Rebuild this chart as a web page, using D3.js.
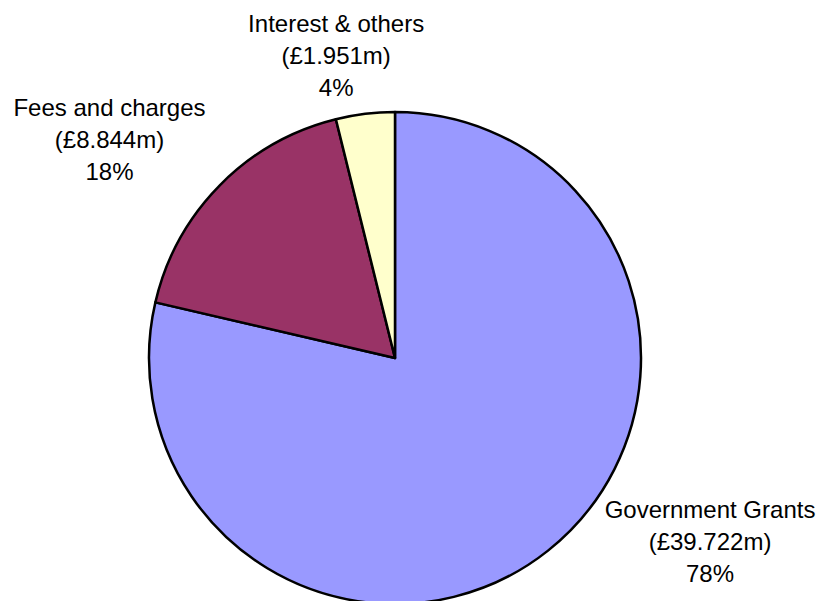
<!DOCTYPE html>
<html>
<head>
<meta charset="utf-8">
<script src="https://cdn.jsdelivr.net/npm/d3@7"></script>
<style>
  body { margin: 0; background: #fff; }
  text { font-family: "Liberation Sans", Arial, sans-serif; font-size: 24px; fill: #000; }
</style>
</head>
<body>
<div id="chart"></div>
<script>
const categories = ["Government Grants", "Fees and charges", "Interest & others"];
const amounts = [39.722, 8.844, 1.951];
const amountLabels = ["(£39.722m)", "(£8.844m)", "(£1.951m)"];
const percentLabels = ["78%", "18%", "4%"];
const colors = ["#9999ff", "#993366", "#ffffcc"];

const width = 823, height = 601;
const cx = 395, cy = 358, radius = 246;

const svg = d3.select("#chart").append("svg")
  .attr("width", width)
  .attr("height", height);

const g = svg.append("g").attr("transform", "translate(" + cx + "," + cy + ")");

const pie = d3.pie().sort(null).value(d => d.value);
const arc = d3.arc().innerRadius(0).outerRadius(radius);

const data = categories.map((c, i) => ({
  name: c, value: amounts[i], amount: amountLabels[i], pct: percentLabels[i], color: colors[i]
}));
const arcs = pie(data);

g.selectAll("path.slice")
  .data(arcs)
  .enter()
  .append("path")
  .attr("class", "slice")
  .attr("d", arc)
  .style("fill", d => d.data.color)
  .style("stroke", "#000")
  .style("stroke-width", "2.5px")
  .style("stroke-linejoin", "round");

// labels outside the pie, pushed out of the circle and kept inside the page
const lineH = 32;
const labels = g.selectAll("text.label")
  .data(arcs)
  .enter()
  .append("text")
  .attr("class", "label")
  .attr("text-anchor", "middle");

labels.each(function (d) {
  const t = d3.select(this);
  [d.data.name, d.data.amount, d.data.pct].forEach((s, k) => {
    t.append("tspan").attr("x", 0).attr("y", k * lineH).text(s);
  });
});

function side(v) {
  return Math.sign(v) * Math.min(1, Math.abs(v) / 0.4);
}

labels.each(function (d) {
  const t = d3.select(this);
  const bb = this.getBBox();
  const w = bb.width, h = bb.height;
  const a = (d.startAngle + d.endAngle) / 2;
  const sx = Math.sin(a), sy = -Math.cos(a);
  const pad = 20;
  // box centre
  let bx = sx * (radius + pad) + side(sx) * w / 2;
  let by = sy * (radius + pad) + sy * h / 2;
  // keep inside page
  const minX = -cx + 4 + w / 2, maxX = width - cx - 4 - w / 2;
  const minY = -cy + 10 + h / 2, maxY = height - cy - 14 - h / 2;
  bx = Math.max(minX, Math.min(maxX, bx));
  by = Math.max(minY, Math.min(maxY, by));
  // push horizontally away from circle if overlapping
  const nearY = by - h / 2 > 0 ? by - h / 2 : (by + h / 2 < 0 ? by + h / 2 : 0);
  if (Math.abs(nearY) < radius) {
    const edge = Math.sqrt(radius * radius - nearY * nearY);
    if (sx > 0 && bx - w / 2 < edge + 6) bx = edge + 6 + w / 2;
    if (sx < 0 && bx + w / 2 > -edge - 6 && sy > -0.9) bx = -edge - 6 - w / 2;
  }
  const dy = by - (bb.y + h / 2);
  t.attr("transform", "translate(" + bx + "," + dy + ")");
});
</script>
</body>
</html>
